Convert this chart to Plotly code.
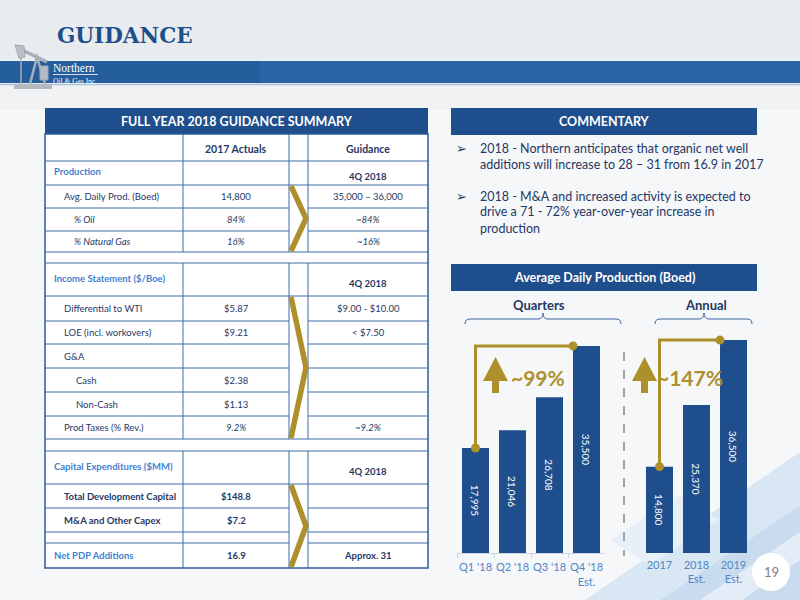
import plotly.graph_objects as go

# ── data ────────────────────────────────────────────────────────────────────
quarter_labels = ["Q1 '18", "Q2 '18", "Q3 '18", "Q4 '18<br>Est."]
quarter_boed = [17995, 21046, 26708, 35500]
annual_labels = ["2017", "2018<br>Est.", "2019<br>Est."]
annual_boed = [14800, 25370, 36500]
growth_labels = ["~99%", "~147%"]

row_labels = [
    "", "Production", "Avg. Daily Prod. (Boed)", "% Oil", "% Natural Gas", "",
    "Income Statement ($/Boe)", "Differential to WTI", "LOE (incl. workovers)",
    "G&A", "Cash", "Non-Cash", "Prod Taxes (% Rev.)", "",
    "Capital Expenditures ($MM)", "Total Development Capital",
    "M&A and Other Capex", "", "Net PDP Additions",
]
actuals_2017 = [
    "2017 Actuals", "", "14,800", "84%", "16%", "",
    "", "$5.87", "$9.21", "", "$2.38", "$1.13", "9.2%", "",
    "", "$148.8", "$7.2", "", "16.9",
]
guidance_2018 = [
    "Guidance", "4Q 2018", "35,000 – 36,000", "~84%", "~16%", "",
    "4Q 2018", "$9.00 - $10.00", "< $7.50", "", "", "", "~9.2%", "",
    "4Q 2018", "", "", "", "Approx. 31",
]
row_kinds = [
    "colhead", "section", "item", "pct", "pct", "gap",
    "section", "item", "item", "item", "sub", "sub", "ital", "gap",
    "section", "bold", "bold", "spacer", "total",
]

bullet_1 = ["2018 - Northern anticipates that organic net well",
            "additions will increase to 28 – 31 from 16.9 in 2017"]
bullet_2 = ["2018 - M&A and increased activity is expected to",
            "drive a 71 - 72% year-over-year increase in",
            "production"]

# ── layout constants (pixels of the 800x600 slide) ─────────────────────────
W, H = 800, 600
FONT = "Lato, 'Open Sans', sans-serif"
NAVY = "#1f4e8c"
TEXT_NAVY = "#1f3864"
LIGHT_BLUE = "#3f7fd0"
TICK_BLUE = "#4f86c6"
GOLD = "#ad8f2b"
GRID = "#3d6aa6"

ROW_EDGES = [134, 161, 185, 208, 231, 252, 263, 296, 321, 344, 368, 392,
             416, 439, 451, 484, 508, 532, 543, 568]
COL_X = [45, 183, 289, 308, 428]
CHEVRON_ROWS = [(2, 4), (7, 12), (15, 18)]


def fx(x):
    return x / W


def fy(y):
    return 1 - y / H


def pt(x, y):
    return f"{fx(x):.5f},{fy(y):.5f}"


shapes, notes = [], []


def rect(x0, y0, x1, y1, fill, line=None, lw=0, layer="below", opacity=1):
    shapes.append(dict(type="rect", xref="paper", yref="paper",
                       x0=fx(x0), x1=fx(x1), y0=fy(y1), y1=fy(y0),
                       fillcolor=fill, opacity=opacity, layer=layer,
                       line=dict(color=line or fill, width=lw)))


def seg(x0, y0, x1, y1, color, width=1, dash="solid", layer="below"):
    shapes.append(dict(type="line", xref="paper", yref="paper",
                       x0=fx(x0), y0=fy(y0), x1=fx(x1), y1=fy(y1),
                       line=dict(color=color, width=width, dash=dash), layer=layer))


def poly(points, fill=None, color=None, width=0, closed=True, layer="below", opacity=1):
    d = "M" + " L".join(pt(x, y) for x, y in points) + (" Z" if closed else "")
    shapes.append(dict(type="path", xref="paper", yref="paper", path=d,
                       fillcolor=fill or "rgba(0,0,0,0)", opacity=opacity, layer=layer,
                       line=dict(color=color or "rgba(0,0,0,0)", width=width)))


def text(x, y, s, size, color, anchor="left", bold=False, italic=False, family=FONT):
    if bold:
        s = f"<b>{s}</b>"
    if italic:
        s = f"<i>{s}</i>"
    notes.append(dict(xref="paper", yref="paper", x=fx(x), y=fy(y), text=s,
                      showarrow=False, xanchor=anchor, yanchor="middle", borderpad=0,
                      font=dict(size=size, color=color, family=family)))


# ── slide background ───────────────────────────────────────────────────────
rect(0, 0, 800, 110, "#e4e7eb", opacity=0.35)
rect(0, 0, 800, 60, "#dfe3e8", opacity=0.4)
poly([(585, 600), (800, 452), (800, 505), (660, 600)], fill="#d9e6f3")
poly([(660, 600), (800, 505), (800, 600)], fill="#c9dcef")
poly([(700, 600), (800, 532), (800, 560), (742, 600)], fill="#e4edf7")
poly([(610, 540), (680, 495), (720, 520), (650, 565)], fill="#e7eff8")

# title + logo band
text(56, 35, "GUIDANCE", 21.5, NAVY, bold=True, family="'DejaVu Serif', serif")
rect(0, 61, 800, 83, "#2a64a4")
rect(0, 61, 260, 83, "#1f5796", opacity=0.5)
seg(0, 84.5, 800, 84.5, "#a9c1dc", 1.5)
# pump jack icon
rect(14, 84, 52, 89, "#b3bac2", layer="above")
poly([(30, 84), (37, 57), (45, 84)], color="#a7aeb7", width=2.5, closed=False, layer="above")
poly([(20, 49), (47, 62)], color="#a7aeb7", width=3.5, closed=False, layer="above")
poly([(15, 45), (24, 46), (25, 57), (19, 58)], fill="#b8bfc7", color="#a0a8b0", width=1, layer="above")
poly([(21, 58), (21, 84)], color="#a7aeb7", width=1.5, closed=False, layer="above")
poly([(40, 66), (48, 66), (48, 80), (40, 80)], fill="#b3bac2", color="#a0a8b0", width=1, layer="above")
text(52, 68, "Northern", 11.5, "white", family="'Liberation Serif', serif")
seg(53, 74.5, 98, 74.5, "white", 0.8, layer="above")
text(52, 81, "Oil &amp; Gas Inc.", 7.5, "white", family="'Liberation Serif', serif")

# ── guidance table ─────────────────────────────────────────────────────────
rect(45, 108, 428, 134, NAVY)
text(237, 121, "FULL YEAR 2018 GUIDANCE SUMMARY", 12.5, "white", anchor="center", bold=True)
rect(45, 134, 428, 568, "white")

chevron_inside = []
for a, b in CHEVRON_ROWS:
    chevron_inside += ROW_EDGES[a + 1:b + 1]

for e in ROW_EDGES[1:-1]:
    seg(45, e, 289, e, GRID)
    seg(308, e, 428, e, GRID)
    if e not in chevron_inside:
        seg(289, e, 308, e, GRID)

for i, kind in enumerate(row_kinds):
    if kind == "gap":
        continue
    for x in COL_X[1:-1]:
        seg(x, ROW_EDGES[i], x, ROW_EDGES[i + 1], GRID)

rect(45, 134, 428, 568, "rgba(0,0,0,0)", line="#2e5c9a", lw=1.5)

for a, b in CHEVRON_ROWS:
    top, bot = ROW_EDGES[a] + 1, ROW_EDGES[b + 1] - 1
    poly([(291, top), (306, (top + bot) / 2), (291, bot)],
         color=GOLD, width=5.5, closed=False, layer="above")

label_x = {"section": 53, "total": 53, "item": 63, "bold": 63, "ital": 63,
           "pct": 73, "sub": 75}
for i, kind in enumerate(row_kinds):
    yc = (ROW_EDGES[i] + ROW_EDGES[i + 1]) / 2
    lab, act, gd = row_labels[i], actuals_2017[i], guidance_2018[i]
    if kind in ("gap", "spacer"):
        continue
    if kind == "colhead":
        text(236, yc + 1, act, 10.5, TEXT_NAVY, anchor="center", bold=True)
        text(368, yc + 1, gd, 10.5, TEXT_NAVY, anchor="center", bold=True)
        continue
    blue = kind in ("section", "total")
    strong = kind in ("section", "total", "bold")
    slant = kind == "pct"
    text(label_x[kind], yc if kind != "section" else yc - 1, lab, 9.5,
         LIGHT_BLUE if blue else TEXT_NAVY, bold=strong, italic=slant)
    vslant = kind in ("pct", "ital")
    vbold = kind in ("section", "total", "bold")
    if act:
        text(236, yc, act, 9.5, TEXT_NAVY, anchor="center", bold=vbold, italic=vslant)
    if gd:
        text(368, yc + (4 if kind == "section" else 0), gd, 9.5, TEXT_NAVY,
             anchor="center", bold=vbold, italic=vslant)

# ── commentary ─────────────────────────────────────────────────────────────
rect(451, 108, 757, 135, NAVY)
text(604, 121.5, "COMMENTARY", 12.5, "white", anchor="center", bold=True)
for lines, y0 in ((bullet_1, 148), (bullet_2, 196)):
    text(455, y0, "➢", 13, TEXT_NAVY, family="'DejaVu Sans', sans-serif")
    for k, line in enumerate(lines):
        text(479, y0 + 16 * k, line, 12.5, TEXT_NAVY)

# ── production chart header ───────────────────────────────────────────────
rect(451, 264, 757, 291, NAVY)
text(604, 277.5, "Average Daily Production (Boed)", 12.5, "white", anchor="center", bold=True)
text(539, 305, "Quarters", 13, TEXT_NAVY, anchor="center", bold=True)
text(706, 305, "Annual", 13, TEXT_NAVY, anchor="center", bold=True)
for x0, xm, x1 in ((465, 543, 621), (655, 704, 752)):
    d = (f"M{pt(x0, 324)} Q{pt(x0, 319)} {pt(x0 + 5, 319)} L{pt(xm - 5, 319)} "
         f"Q{pt(xm, 319)} {pt(xm, 313)} Q{pt(xm, 319)} {pt(xm + 5, 319)} "
         f"L{pt(x1 - 5, 319)} Q{pt(x1, 319)} {pt(x1, 324)}")
    shapes.append(dict(type="path", xref="paper", yref="paper", path=d,
                       line=dict(color="#3a64a0", width=1)))
seg(624, 352, 624, 556, "#a3a3a3", 2, dash="dash")

# growth arrows
for cx, (tx, lab) in zip((495.5, 644.5), ((538, growth_labels[0]), (690, growth_labels[1]))):
    poly([(cx, 357), (cx + 12.5, 381), (cx + 3.5, 381), (cx + 3.5, 393),
          (cx - 3.5, 393), (cx - 3.5, 381), (cx - 12.5, 381)], fill=GOLD, layer="above")
    text(tx, 377, lab, 21, GOLD, anchor="center", bold=True)

# page number
shapes.append(dict(type="circle", xref="paper", yref="paper",
                   x0=fx(752), x1=fx(790), y0=fy(591), y1=fy(553),
                   fillcolor="white", line=dict(width=0), layer="below"))
text(771, 572, "19", 13, "#7f7f7f", anchor="center")

# ── bars ───────────────────────────────────────────────────────────────────
fig = go.Figure()
for labels, vals, xa in ((quarter_labels, quarter_boed, "x"), (annual_labels, annual_boed, "x2")):
    fig.add_trace(go.Bar(
        x=labels, y=vals, xaxis=xa, yaxis="y",
        marker=dict(color=NAVY, line=dict(width=0)),
        text=[f"{v:,}" for v in vals], textposition="inside",
        insidetextanchor="middle", textangle=90, constraintext="none",
        textfont=dict(color="white", size=10, family=FONT),
        hoverinfo="skip",
    ))

# connectors from first bar to last bar in each group
half = (1 - 0.27) / 2
for vals, xa in ((quarter_boed, "x"), (annual_boed, "x2")):
    last = len(vals) - 1
    shapes.append(dict(type="path", xref=xa, yref="y", layer="above",
                       path=f"M 0,{vals[0]} L 0,{vals[-1]} L {last - half},{vals[-1]}",
                       line=dict(color=GOLD, width=3)))
    for xv, yv in ((0, vals[0]), (last - half, vals[-1])):
        shapes.append(dict(type="circle", xref=xa, yref="y", layer="above",
                           xsizemode="pixel", ysizemode="pixel", xanchor=xv, yanchor=yv,
                           x0=-4.5, x1=4.5, y0=-4.5, y1=4.5,
                           fillcolor=GOLD, line=dict(width=0)))

tick_style = dict(type="category", anchor="y", showgrid=False, zeroline=False,
                  tickangle=0, tickfont=dict(size=11, color=TICK_BLUE, family=FONT),
                  ticks="outside", ticklen=4, tickson="boundaries",
                  ticklabelstandoff=4, fixedrange=True)
fig.update_layout(
    width=W, height=H,
    margin=dict(l=0, r=0, t=0, b=0),
    paper_bgcolor="#f6f7f9",
    plot_bgcolor="rgba(0,0,0,0)",
    showlegend=False,
    bargap=0.27,
    xaxis=dict(domain=[fx(457), fx(605)], showline=True, linecolor="#ccd5e0",
               tickcolor="#ccd5e0", **tick_style),
    xaxis2=dict(domain=[fx(641), fx(752)], showline=False,
                tickcolor="rgba(0,0,0,0)", **tick_style),
    yaxis=dict(domain=[fy(553), fy(330)], range=[0, 38230], visible=False, fixedrange=True),
    shapes=shapes,
    annotations=notes,
)

fig.write_html("out.html", config={"displayModeBar": False},
               post_script="document.body.style.margin='0';")
